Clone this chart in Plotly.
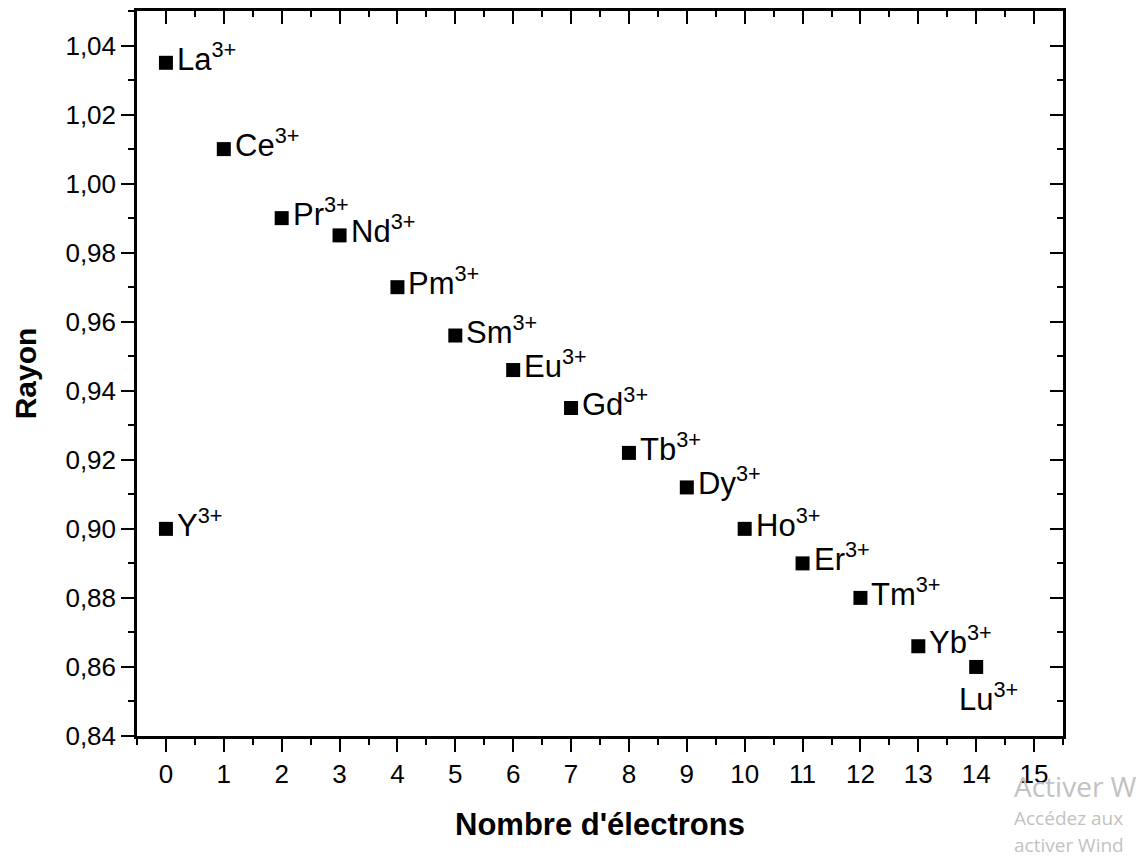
import plotly.graph_objects as go

# Data
ions = ["La", "Ce", "Pr", "Nd", "Pm", "Sm", "Eu", "Gd", "Tb", "Dy",
        "Ho", "Er", "Tm", "Yb", "Lu", "Y"]
electrons = [0, 1, 2, 3, 4, 5, 6, 7, 8, 9, 10, 11, 12, 13, 14, 0]
rayon = [1.035, 1.010, 0.990, 0.985, 0.970, 0.956, 0.946, 0.935, 0.922, 0.912,
         0.900, 0.890, 0.880, 0.866, 0.860, 0.900]
charge = "3+"

x_ticks = list(range(0, 16))
y_ticks = [0.84, 0.86, 0.88, 0.90, 0.92, 0.94, 0.96, 0.98, 1.00, 1.02, 1.04]

# Windows activation watermark lines visible (cut) in the screenshot
watermark = ["Activer W", "Accédez aux", "activer Wind"]

FONT = "Liberation Sans, Arial, sans-serif"

fig = go.Figure()
fig.add_trace(go.Scatter(
    x=electrons, y=rayon, mode="markers",
    marker=dict(symbol="square", size=14, color="black"),
    showlegend=False, hoverinfo="x+y",
))
# empty trace so that the mirrored (inward-tick) axes are drawn
fig.add_trace(go.Scatter(x=[], y=[], xaxis="x2", yaxis="y2", showlegend=False))

annotations = []
for name, xv, yv in zip(ions, electrons, rayon):
    label = f"{name}<sup>{charge}</sup>"
    if name == "Lu":
        annotations.append(dict(
            x=xv, y=yv, xref="x", yref="y", text=label, showarrow=False,
            xanchor="left", yanchor="top", xshift=-19, yshift=-8,
            font=dict(family=FONT, size=31, color="black")))
    else:
        annotations.append(dict(
            x=xv, y=yv, xref="x", yref="y", text=label, showarrow=False,
            xanchor="left", yanchor="middle", xshift=9, yshift=6,
            font=dict(family=FONT, size=31, color="black")))

wm_color = "#c2c2c2"
wm_style = [(-0.0690, 28), (-0.1128, 19), (-0.1500, 19)]
for txt, (ypos, fsize) in zip(watermark, wm_style):
    annotations.append(dict(
        x=0.9446, y=ypos, xref="paper", yref="paper", text=txt,
        showarrow=False, xanchor="left", yanchor="middle",
        font=dict(family="Open Sans, sans-serif", size=fsize, color=wm_color)))

axis_common = dict(
    showline=True, linecolor="black", linewidth=2.5,
    showgrid=False, zeroline=False,
    tickcolor="black", tickwidth=2,
)

fig.update_layout(
    width=1142, height=860,
    margin=dict(l=137, r=79, t=11, b=124),
    paper_bgcolor="white", plot_bgcolor="white",
    font=dict(family=FONT, color="black"),
    xaxis=dict(
        range=[-0.5, 15.5], tickmode="array", tickvals=x_ticks,
        ticktext=[str(v) for v in x_ticks],
        ticks="outside", ticklen=13,
        minor=dict(dtick=0.5, tick0=0, ticks="outside", ticklen=6,
                   tickwidth=2, tickcolor="black"),
        tickfont=dict(size=26, family=FONT, color="black"),
        title=dict(text="<b>Nombre d'électrons</b>",
                   font=dict(size=31, family=FONT, color="black"), standoff=26),
        **axis_common,
    ),
    yaxis=dict(
        range=[0.84, 1.05], tickmode="array", tickvals=y_ticks,
        ticktext=[f"{v:.2f}".replace(".", ",") for v in y_ticks],
        ticks="outside", ticklen=13,
        minor=dict(dtick=0.01, tick0=0.84, ticks="outside", ticklen=6,
                   tickwidth=2, tickcolor="black"),
        tickfont=dict(size=26, family=FONT, color="black"),
        title=dict(text="<b>Rayon</b>",
                   font=dict(size=30, family=FONT, color="black"), standoff=20),
        **axis_common,
    ),
    xaxis2=dict(
        overlaying="x", side="top", anchor="y",
        range=[-0.5, 15.5], tickmode="array", tickvals=x_ticks,
        ticks="inside", ticklen=13, showticklabels=False,
        minor=dict(dtick=0.5, tick0=0, ticks="inside", ticklen=6,
                   tickwidth=2, tickcolor="black"),
        **axis_common,
    ),
    yaxis2=dict(
        overlaying="y", side="right", anchor="x",
        range=[0.84, 1.05], tickmode="array", tickvals=y_ticks,
        ticks="inside", ticklen=13, showticklabels=False,
        minor=dict(dtick=0.01, tick0=0.84, ticks="inside", ticklen=6,
                   tickwidth=2, tickcolor="black"),
        **axis_common,
    ),
    annotations=annotations,
)

fig.write_html("out.html")
